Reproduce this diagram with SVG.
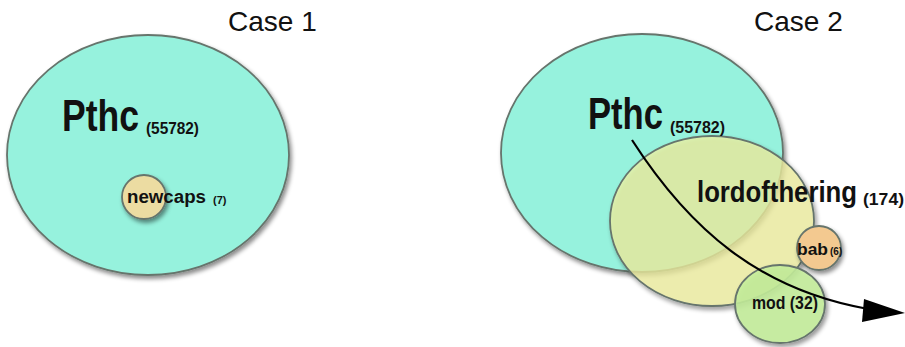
<svg xmlns="http://www.w3.org/2000/svg" width="905" height="347" viewBox="0 0 905 347">
<defs>
<filter id="sh" x="-20%" y="-20%" width="140%" height="140%">
<feDropShadow dx="2" dy="3" stdDeviation="2" flood-color="#000" flood-opacity="0.45"/>
</filter>
</defs>
<style>
.title{font-family:"Liberation Sans",Arial,sans-serif;font-size:28px;fill:#111}
.b{font-family:"Liberation Sans",Arial,sans-serif;font-weight:bold;fill:#111}
.node{stroke:#66746c;stroke-width:1.8}
</style>
<rect width="905" height="347" fill="#fff"/>
<text class="title" x="228" y="31">Case 1</text>
<text class="title" x="754" y="31">Case 2</text>

<g id="case1-pthc">
<ellipse class="node" cx="148" cy="155" rx="141" ry="120" fill="#96f2dd" filter="url(#sh)"/>
<text class="b" x="62" y="131" font-size="44" textLength="77" lengthAdjust="spacingAndGlyphs">Pthc</text>
<text class="b" x="146" y="134" font-size="16" textLength="53" lengthAdjust="spacingAndGlyphs">(55782)</text>
</g>
<g id="case1-newcaps">
<circle class="node" cx="144" cy="197" r="22" fill="#ecdca2" filter="url(#sh)"/>
<text class="b" x="127" y="203" font-size="18" textLength="79" lengthAdjust="spacingAndGlyphs">newcaps</text>
<text class="b" x="213" y="204" font-size="11">(7)</text>
</g>

<g id="case2-pthc">
<ellipse class="node" cx="642" cy="153" rx="141" ry="119" fill="#96f2dd" filter="url(#sh)"/>
</g>
<g id="case2-lordofthering">
<ellipse class="node" cx="712" cy="221" rx="102" ry="85" fill="#f4f4a2" fill-opacity="0.72" stroke="#9a9a70" filter="url(#sh)"/>
</g>
<g id="case2-bab">
<circle class="node" cx="819" cy="248" r="22" fill="#f3c990" filter="url(#sh)"/>
</g>
<g id="case2-mod">
<ellipse class="node" cx="780" cy="304" rx="45" ry="39" fill="#c6f09c" fill-opacity="0.85" filter="url(#sh)"/>
</g>
<g id="labels2">
<text class="b" x="588" y="129" font-size="44" textLength="75" lengthAdjust="spacingAndGlyphs">Pthc</text>
<text class="b" x="670" y="133" font-size="16" textLength="55" lengthAdjust="spacingAndGlyphs">(55782)</text>
<text class="b" x="697" y="202" font-size="30" textLength="160" lengthAdjust="spacingAndGlyphs">lordofthering</text>
<text class="b" x="863" y="205" font-size="17" textLength="41" lengthAdjust="spacingAndGlyphs">(174)</text>
<text class="b" x="797" y="255" font-size="17" textLength="31" lengthAdjust="spacingAndGlyphs">bab</text>
<text class="b" x="830" y="255" font-size="10">(6)</text>
<text class="b" x="752" y="309" font-size="18" textLength="66" lengthAdjust="spacingAndGlyphs">mod (32)</text>
</g>
<g id="connectors">
<path d="M632,140 C690,230 760,290 868,309" fill="none" stroke="#000" stroke-width="2.2"/>
<path d="M905,313 L864,299 L862,322 z" fill="#000"/>
</g>
</svg>
